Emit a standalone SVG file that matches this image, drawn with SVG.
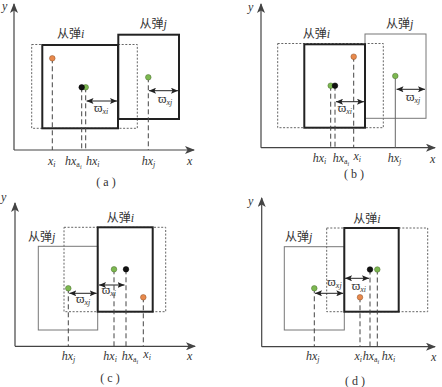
<svg xmlns="http://www.w3.org/2000/svg" width="442" height="387" viewBox="0 0 442 387">
<style>
text{font-family:"Liberation Serif","DejaVu Serif","Noto Sans CJK SC",serif;fill:#333;font-size:12px}
.cjk{font-family:"Liberation Serif","Noto Sans CJK SC",serif;font-size:12px}
.it{font-style:italic}
.sub{font-size:8px}
.ss{font-size:6px}
.w{font-size:13px}
.cap{font-family:"Liberation Serif",serif;font-size:12px;text-anchor:middle}
.axis{stroke:#444;stroke-width:1.2;fill:none;marker-end:url(#ah)}
.dot{fill:none;stroke:#666;stroke-width:1;stroke-dasharray:2 1.6}
.bold{fill:none;stroke:#222;stroke-width:2}
.thin{fill:none;stroke:#777;stroke-width:1}
.dash{stroke:#444;stroke-width:1;stroke-dasharray:5 3;fill:none}
.solidg{stroke:#666;stroke-width:1;fill:none}
.dim{stroke:#222;stroke-width:1;fill:none;marker-start:url(#dh);marker-end:url(#dh)}
.go{fill:#7cb850;stroke:#4a6a30;stroke-width:0.5}
.or{fill:#e8894c;stroke:#8a5028;stroke-width:0.5}
.bk{fill:#111;stroke:#000;stroke-width:0.5}
</style>
<defs>
<marker id="ah" markerWidth="10" markerHeight="8" refX="9" refY="4" orient="auto" markerUnits="userSpaceOnUse">
<path d="M0,0 L10,4 L0,8 L2.5,4 Z" fill="#444"/>
</marker>
<marker id="dh" markerWidth="7" markerHeight="6" refX="7" refY="3" orient="auto-start-reverse" markerUnits="userSpaceOnUse">
<path d="M0,0 L7,3 L0,6 L1.5,3 Z" fill="#222"/>
</marker>
</defs>

<!-- Panel (a) -->
<g id="panel-a">
<g id="a-axes">
<line class="axis" x1="14" y1="150" x2="14" y2="4"/>
<line class="axis" x1="14" y1="150" x2="194" y2="150"/>
<text class="it" x="2" y="10">y</text>
<text class="it" x="187" y="165">x</text>
</g>
<g id="a-range"><rect class="dot" x="31.7" y="44.5" width="105.6" height="83.8"/></g>
<g id="a-missile-i"><rect class="bold" x="42.3" y="45" width="75.7" height="83.3"/>
<text class="cjk" x="57" y="38">从弹<tspan class="it">i</tspan></text></g>
<g id="a-missile-j"><rect class="bold" x="118.3" y="34.7" width="60.7" height="84.3"/>
<text class="cjk" x="139.5" y="28">从弹<tspan class="it">j</tspan></text></g>
<g id="a-connectors">
<line class="dash" x1="52.3" y1="58.3" x2="52.3" y2="150"/>
<line class="dash" x1="81.7" y1="87.3" x2="81.7" y2="150"/>
<line class="dash" x1="85.7" y1="87.3" x2="85.7" y2="150"/>
<line class="dash" x1="148.3" y1="77.3" x2="148.3" y2="150"/>
<line class="dim" x1="86.5" y1="101" x2="117" y2="101"/>
<line class="dim" x1="149" y1="90.7" x2="178" y2="90.7"/>
</g>
<g id="a-dots">
<circle class="or" cx="52.3" cy="58.3" r="2.8"/>
<circle class="go" cx="85.7" cy="87.3" r="2.8"/>
<circle class="bk" cx="81.7" cy="87.3" r="2.8"/>
<circle class="go" cx="148.3" cy="77.3" r="2.8"/>
</g>
<g id="a-labels">
<text class="w" x="94" y="112">ϖ<tspan class="it sub" dy="2">xi</tspan></text>
<text class="w" x="158" y="103">ϖ<tspan class="it sub" dy="2">xj</tspan></text>
<text class="it" x="48" y="164.5">x<tspan class="sub" dy="2">i</tspan></text>
<text class="it" x="65" y="164.5">hx<tspan class="sub" style="font-style:normal" dy="2">a</tspan><tspan class="ss" dy="2">i</tspan></text>
<text class="it" x="86" y="164.5">hx<tspan class="sub" dy="2">i</tspan></text>
<text class="it" x="141.7" y="164.5">hx<tspan class="sub" dy="2">j</tspan></text>
<text class="cap" x="106" y="186">( a )</text>
</g>
</g>

<!-- Panel (b) -->
<g id="panel-b">
<g id="b-axes">
<line class="axis" x1="261" y1="147.7" x2="261" y2="4"/>
<line class="axis" x1="261" y1="147.7" x2="435" y2="147.7"/>
<text class="it" x="248" y="11">y</text>
<text class="it" x="430" y="163">x</text>
</g>
<g id="b-range"><rect class="dot" x="277.7" y="43.5" width="105.6" height="84.2"/></g>
<g id="b-missile-j"><rect class="thin" x="365" y="34" width="61" height="84.3"/>
<text class="cjk" x="386" y="27.5">从弹<tspan class="it">j</tspan></text></g>
<g id="b-missile-i"><rect class="bold" x="304.3" y="44.3" width="60.7" height="83.4"/>
<text class="cjk" x="302.7" y="37.5">从弹<tspan class="it">i</tspan></text></g>
<g id="b-connectors">
<line class="dash" x1="330.7" y1="85.7" x2="330.7" y2="147.7"/>
<line class="dash" x1="335" y1="85.7" x2="335" y2="147.7"/>
<line class="dash" x1="353.7" y1="56.7" x2="353.7" y2="147.7"/>
<line class="solidg" x1="395.3" y1="76" x2="395.3" y2="147.7"/>
<line class="dim" x1="336" y1="101.7" x2="364" y2="101.7"/>
<line class="dim" x1="396.5" y1="89.3" x2="425" y2="89.3"/>
</g>
<g id="b-dots">
<circle class="go" cx="330.7" cy="85.7" r="2.8"/>
<circle class="bk" cx="335" cy="85.7" r="2.8"/>
<circle class="or" cx="353.7" cy="56.7" r="2.8"/>
<circle class="go" cx="395.3" cy="76" r="2.8"/>
</g>
<g id="b-labels">
<text class="w" x="337.7" y="111.5">ϖ<tspan class="it sub" dy="2">xi</tspan></text>
<text class="w" x="406" y="101">ϖ<tspan class="it sub" dy="2">xj</tspan></text>
<text class="it" x="312.7" y="162">hx<tspan class="sub" dy="2">i</tspan></text>
<text class="it" x="332.7" y="162">hx<tspan class="sub" style="font-style:normal" dy="2">a</tspan><tspan class="ss" dy="2">i</tspan></text>
<text class="it" x="353.5" y="160.3">x<tspan class="sub" dy="2">i</tspan></text>
<text class="it" x="387.7" y="162">hx<tspan class="sub" dy="2">j</tspan></text>
<text class="cap" x="354" y="177.5">( b )</text>
</g>
</g>

<!-- Panel (c) -->
<g id="panel-c">
<g id="c-axes">
<line class="axis" x1="15" y1="346.3" x2="15" y2="203"/>
<line class="axis" x1="15" y1="346.3" x2="195" y2="346.3"/>
<text class="it" x="1" y="201">y</text>
<text class="it" x="187" y="360">x</text>
</g>
<g id="c-range"><rect class="dot" x="64" y="227.3" width="101.7" height="84.4"/></g>
<g id="c-missile-j"><rect class="thin" x="38.3" y="246.3" width="59.4" height="83.7"/>
<text class="cjk" x="28" y="241">从弹<tspan class="it">j</tspan></text></g>
<g id="c-missile-i"><rect class="bold" x="97.7" y="227.3" width="55" height="84.4"/>
<text class="cjk" x="106.7" y="222">从弹<tspan class="it">i</tspan></text></g>
<g id="c-connectors">
<line class="dash" x1="68.3" y1="288.3" x2="68.3" y2="346.3"/>
<line class="dash" x1="114" y1="269.3" x2="114" y2="346.3"/>
<line class="dash" x1="126" y1="269.3" x2="126" y2="346.3"/>
<line class="dash" x1="143.3" y1="297.3" x2="143.3" y2="346.3"/>
<line class="dim" x1="69.3" y1="293.3" x2="96.7" y2="293.3"/>
<line class="dim" x1="99" y1="285" x2="124.5" y2="285"/>
</g>
<g id="c-dots">
<circle class="go" cx="68.3" cy="288.3" r="2.8"/>
<circle class="go" cx="114" cy="269.3" r="2.8"/>
<circle class="bk" cx="126" cy="269.3" r="2.8"/>
<circle class="or" cx="143.3" cy="297.3" r="2.8"/>
</g>
<g id="c-labels">
<text class="w" x="76" y="303">ϖ<tspan class="it sub" dy="2">xj</tspan></text>
<text class="w" x="101.7" y="294">ϖ<tspan class="it sub" dy="2">xi</tspan></text>
<text class="it" x="61.7" y="360">hx<tspan class="sub" dy="2">j</tspan></text>
<text class="it" x="103.3" y="360">hx<tspan class="sub" dy="2">i</tspan></text>
<text class="it" x="121.7" y="360">hx<tspan class="sub" style="font-style:normal" dy="2">a</tspan><tspan class="ss" dy="2">i</tspan></text>
<text class="it" x="143.3" y="358.3">x<tspan class="sub" dy="2">i</tspan></text>
<text class="cap" x="110" y="381.5">( c )</text>
</g>
</g>

<!-- Panel (d) -->
<g id="panel-d">
<g id="d-axes">
<line class="axis" x1="261.7" y1="346.7" x2="261.7" y2="198"/>
<line class="axis" x1="261.7" y1="346.7" x2="435" y2="346.7"/>
<text class="it" x="248" y="205">y</text>
<text class="it" x="431" y="361">x</text>
</g>
<g id="d-range"><rect class="dot" x="326.7" y="228" width="101" height="83.7"/></g>
<g id="d-missile-j"><rect class="thin" x="284.3" y="246.7" width="60" height="83.3"/>
<text class="cjk" x="285" y="241">从弹<tspan class="it">j</tspan></text></g>
<g id="d-missile-i"><rect class="bold" x="344.3" y="228" width="54.4" height="83.7"/>
<text class="cjk" x="353.3" y="223">从弹<tspan class="it">i</tspan></text></g>
<g id="d-connectors">
<line class="dash" x1="314.3" y1="288.3" x2="314.3" y2="346.7"/>
<line class="dash" x1="360" y1="297.3" x2="360" y2="346.7"/>
<line class="dash" x1="370" y1="269.5" x2="370" y2="346.7"/>
<line class="dash" x1="377.3" y1="269.5" x2="377.3" y2="346.7"/>
<line class="dim" x1="315" y1="293.3" x2="343.3" y2="293.3"/>
<line class="dim" x1="345" y1="278.3" x2="369" y2="278.3"/>
</g>
<g id="d-dots">
<circle class="go" cx="314.3" cy="288.3" r="2.8"/>
<circle class="or" cx="360" cy="297.3" r="2.8"/>
<circle class="bk" cx="370" cy="269.5" r="2.8"/>
<circle class="go" cx="377.3" cy="269.5" r="2.8"/>
</g>
<g id="d-labels">
<text class="w" x="327.3" y="286">ϖ<tspan class="it sub" dy="2">xj</tspan></text>
<text class="w" x="351.7" y="290">ϖ<tspan class="it sub" dy="2">xi</tspan></text>
<text class="it" x="306" y="360">hx<tspan class="sub" dy="2">j</tspan></text>
<text class="it" x="354.5" y="360">x<tspan class="sub" dy="2">i</tspan></text>
<text class="it" x="362.7" y="360">hx<tspan class="sub" style="font-style:normal" dy="2">a</tspan><tspan class="ss" dy="2">i</tspan></text>
<text class="it" x="381.7" y="360">hx<tspan class="sub" dy="2">i</tspan></text>
<text class="cap" x="355" y="385">( d )</text>
</g>
</g>
</svg>
